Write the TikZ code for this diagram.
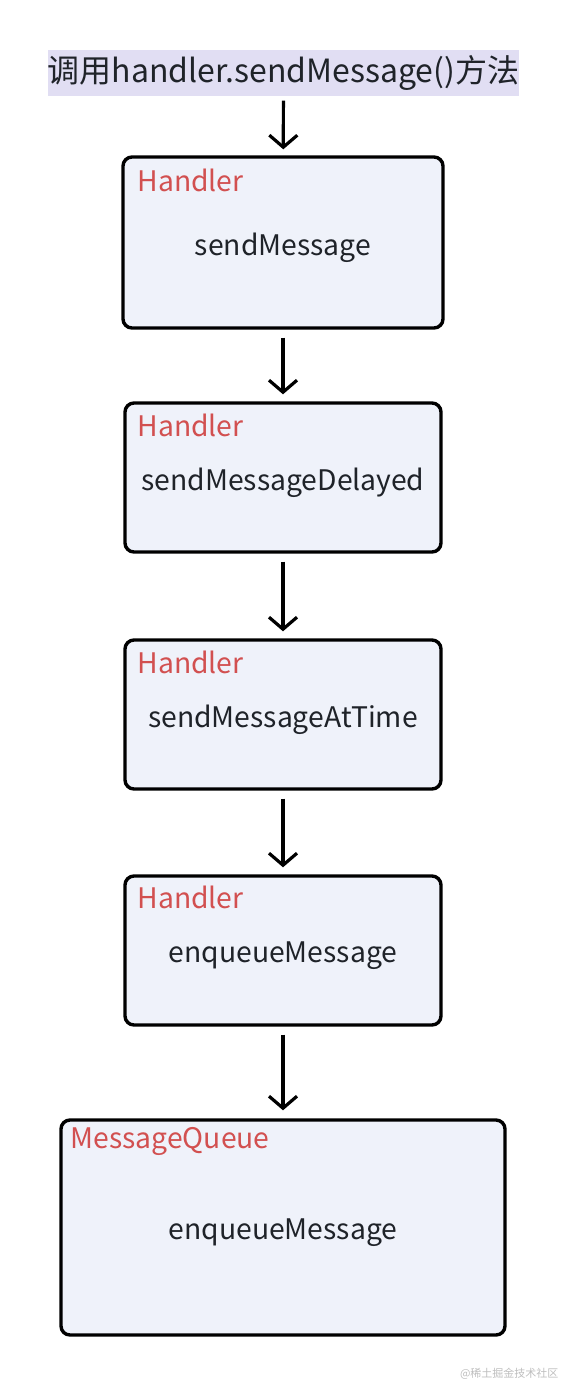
\documentclass[tikz,border=0pt]{standalone}
\usepackage{fontspec}
\setmainfont{Noto Sans CJK SC}
\usepackage{tikz}
\usetikzlibrary{arrows.meta, positioning}
\definecolor{ink}{RGB}{31,35,41}
\definecolor{lavender}{RGB}{225,222,243}
\definecolor{paleblue}{RGB}{239,242,250}
\definecolor{tagred}{RGB}{210,80,80}
\definecolor{wmgray}{RGB}{190,190,190}

\begin{document}
\begin{tikzpicture}[x=1pt, y=-1pt,
  callbox/.style={draw=black, line width=3.4pt, rounded corners=9pt, fill=paleblue, inner sep=0pt},
  method/.style={font=\fontsize{28.3}{32}\selectfont, text=ink, yshift=-5pt},
  owner/.style={font=\fontsize{28.3}{32}\selectfont, text=tagred, anchor=west},
  flow/.style={-{Straight Barb[length=12pt, width=28pt]}, line width=3.2pt, black}]
  \useasboundingbox (0,0) rectangle (566,1384);

  % Start title
  \node[fill=lavender, minimum width=471pt, minimum height=46pt, inner sep=0pt,
        font=\fontsize{32}{36}\selectfont, text=ink] (start) at (283.5,72.5) {调用handler.sendMessage()方法};

  % Call boxes
  \node[callbox, minimum width=320pt, minimum height=171pt] (send) at (283,242.5) {};
  \node[callbox, minimum width=316pt, minimum height=149pt] (delayed) at (283,477.5) {};
  \node[callbox, minimum width=316pt, minimum height=149pt] (attime) at (283,714.5) {};
  \node[callbox, minimum width=316pt, minimum height=149pt] (enqueue) at (283,950.5) {};
  \node[callbox, minimum width=444pt, minimum height=215pt] (queue) at (283,1227.5) {};

  % Class tags
  \node[owner] (sendtag) at (134,180) {Handler};
  \node[owner] (delayedtag) at (134,425) {Handler};
  \node[owner] (attimetag) at (134,662) {Handler};
  \node[owner] (enqueuetag) at (134,897) {Handler};
  \node[owner] (queuetag) at (67,1141) {MessageQueue};

  % Method names
  \node[method] at (send.center) {sendMessage};
  \node[method] at (delayed.center) {sendMessageDelayed};
  \node[method] at (attime.center) {sendMessageAtTime};
  \node[method] at (enqueue.center) {enqueueMessage};
  \node[method] at (queue.center) {enqueueMessage};

  % Arrows down the chain
  \draw[flow, shorten <=5pt, shorten >=6pt] (start) -- (send);
  \draw[flow, shorten <=8pt, shorten >=7pt] (send) -- (delayed);
  \draw[flow, shorten <=8pt, shorten >=7pt] (delayed) -- (attime);
  \draw[flow, shorten <=8pt, shorten >=7pt] (attime) -- (enqueue);
  \draw[flow, shorten <=8pt, shorten >=8pt] (enqueue) -- (queue);

  % Watermark
  \node[font=\fontsize{11}{13}\selectfont, text=wmgray, anchor=east] (mark) at (562,1374) {@稀土掘金技术社区};
\end{tikzpicture}
\end{document}
